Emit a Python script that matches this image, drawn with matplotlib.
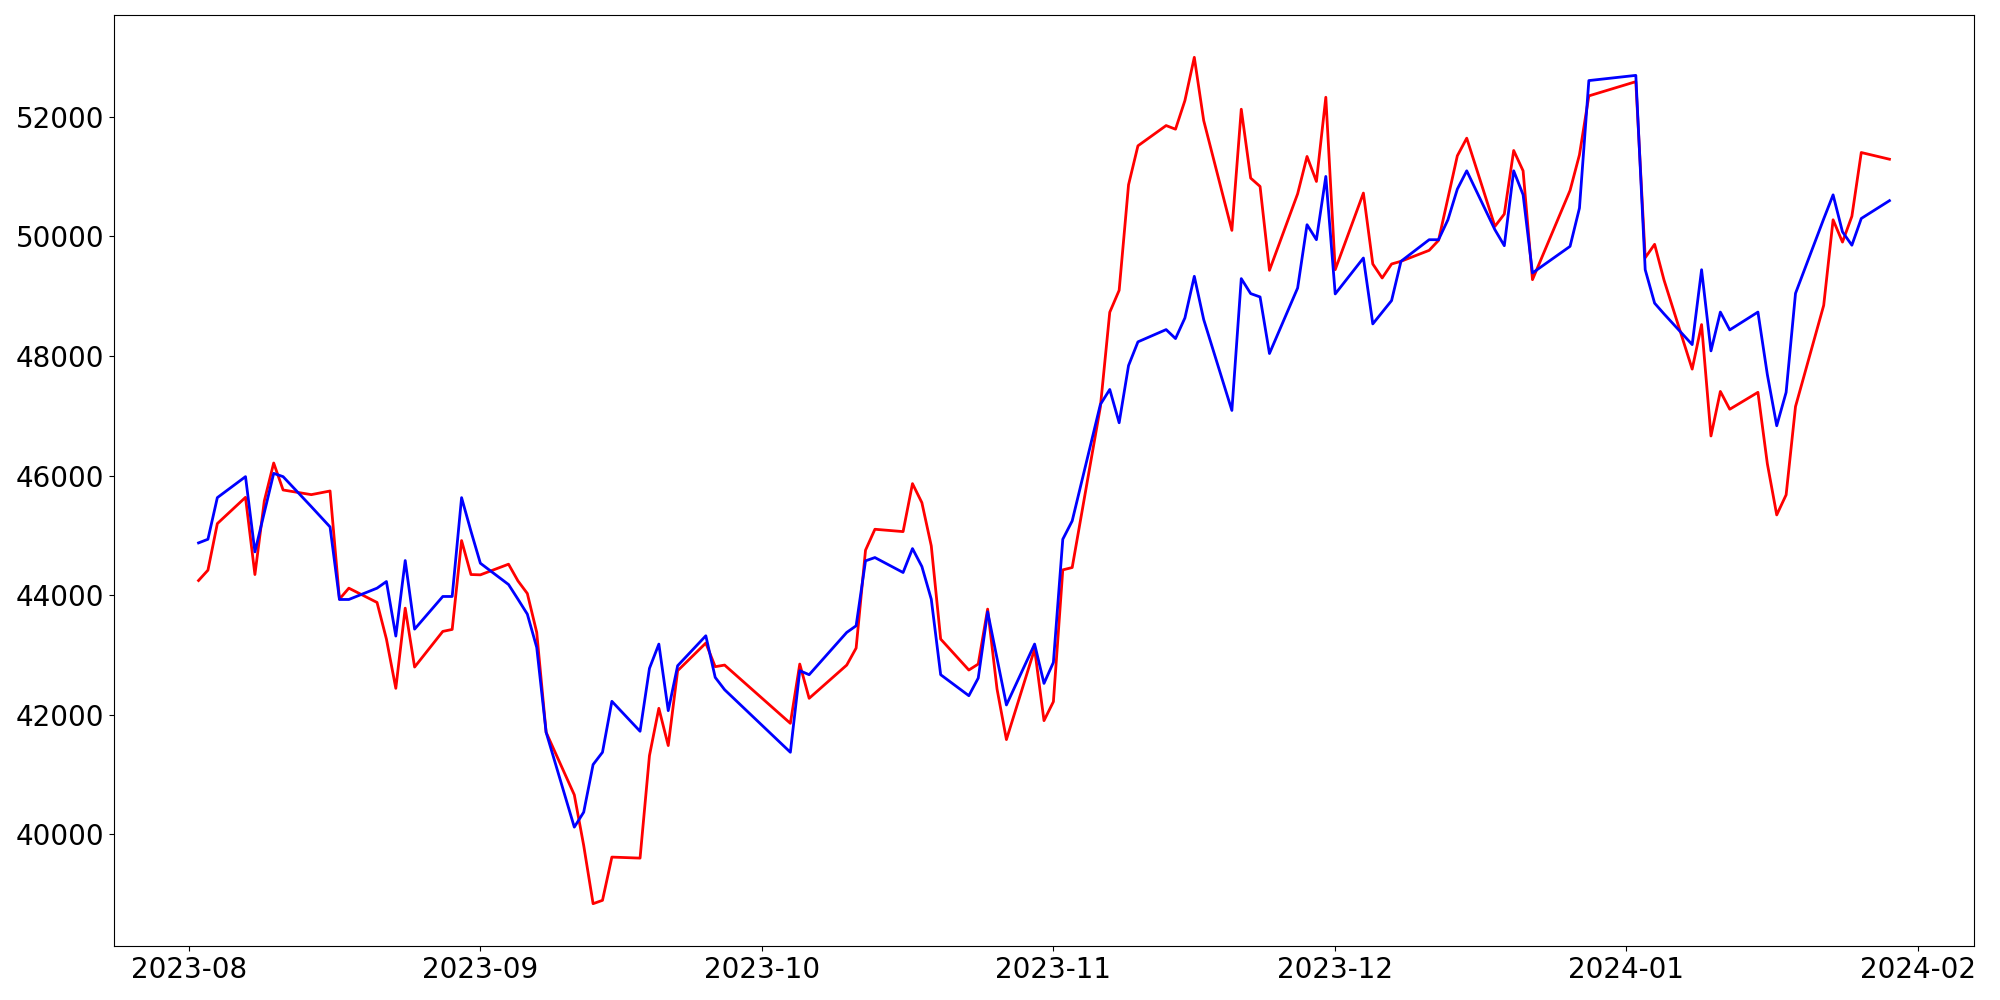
import matplotlib
matplotlib.use('agg')
import matplotlib.pyplot as plt
import pandas as pd

# trading days (KRX calendar, Aug 2023 - Jan 2024)
days_aug = ['2023-08-02', '2023-08-03', '2023-08-04', '2023-08-07', '2023-08-08', '2023-08-09',
            '2023-08-10', '2023-08-11', '2023-08-14', '2023-08-16', '2023-08-17', '2023-08-18',
            '2023-08-21', '2023-08-22', '2023-08-23', '2023-08-24', '2023-08-25', '2023-08-28',
            '2023-08-29', '2023-08-30', '2023-08-31']
days_sep = ['2023-09-01', '2023-09-04', '2023-09-05', '2023-09-06', '2023-09-07', '2023-09-08',
            '2023-09-11', '2023-09-12', '2023-09-13', '2023-09-14', '2023-09-15', '2023-09-18',
            '2023-09-19', '2023-09-20', '2023-09-21', '2023-09-22', '2023-09-25', '2023-09-26',
            '2023-09-27']
days_oct = ['2023-10-04', '2023-10-05', '2023-10-06', '2023-10-10', '2023-10-11', '2023-10-12',
            '2023-10-13', '2023-10-16', '2023-10-17', '2023-10-18', '2023-10-19', '2023-10-20',
            '2023-10-23', '2023-10-24', '2023-10-25', '2023-10-26', '2023-10-27', '2023-10-30',
            '2023-10-31']
days_nov = ['2023-11-01', '2023-11-02', '2023-11-03', '2023-11-06', '2023-11-07', '2023-11-08',
            '2023-11-09', '2023-11-10', '2023-11-13', '2023-11-14', '2023-11-15', '2023-11-16',
            '2023-11-17', '2023-11-20', '2023-11-21', '2023-11-22', '2023-11-23', '2023-11-24',
            '2023-11-27', '2023-11-28', '2023-11-29', '2023-11-30']
days_dec = ['2023-12-01', '2023-12-04', '2023-12-05', '2023-12-06', '2023-12-07', '2023-12-08',
            '2023-12-11', '2023-12-12', '2023-12-13', '2023-12-14', '2023-12-15', '2023-12-18',
            '2023-12-19', '2023-12-20', '2023-12-21', '2023-12-22', '2023-12-26', '2023-12-27',
            '2023-12-28']
days_jan = ['2024-01-02', '2024-01-03', '2024-01-04', '2024-01-05', '2024-01-08', '2024-01-09',
            '2024-01-10', '2024-01-11', '2024-01-12', '2024-01-15', '2024-01-16', '2024-01-17',
            '2024-01-18', '2024-01-19', '2024-01-22', '2024-01-23', '2024-01-24', '2024-01-25',
            '2024-01-26', '2024-01-29']

red_vals = [
    # aug
    44247, 44420, 45199, 45638, 44347, 45577, 46212, 45761, 45683, 45744, 43936,
    44119, 43880, 43268, 42444, 43785, 42800, 43396, 43429, 44915, 44347,
    # sep
    44342, 44520, 44241, 44030, 43379, 41709, 40663, 39817, 38843, 38899,
    39622, 39605, 41319, 42110, 41487, 42739, 43201, 42806, 42833,
    # oct
    41859, 42850, 42277, 42833, 43117, 44754, 45104, 45065, 45867, 45549,
    44826, 43268, 42750, 42850, 43769, 42433, 41587, 43101, 41904,
    # nov
    42221, 44425, 44464, 47150, 48733, 49100, 50865, 51516, 51855, 51794, 52273,
    52996, 51939, 50102, 52128, 50976, 50837, 49434, 50714, 51338, 50920, 52328,
    # dec
    49445, 50726, 49540, 49306, 49540, 49585, 49768, 49935, 50642, 51349,
    51644, 50169, 50375, 51438, 51098, 49278, 50770, 51366, 52351,
    # jan
    52589, 49645, 49869, 49272, 47782, 48527, 46664, 47409, 47111, 47394,
    46201, 45344, 45680, 47156, 48848, 50279, 49906, 50338, 51404, 51292,
]

blue_vals = [
    # aug
    44876, 44937, 45633, 45984, 44726, 45383, 46039, 45984, 45483, 45143, 43930,
    43930, 44119, 44230, 43318, 44581, 43434, 43980, 43980, 45633, 45071,
    # sep
    44536, 44180, 43935, 43685, 43128, 41709, 40123, 40373, 41169, 41375,
    42227, 41726, 42778, 43184, 42071, 42822, 43323, 42627, 42421,
    # oct
    41375, 42739, 42672, 43379, 43490, 44576, 44631, 44381, 44781, 44481,
    43935, 42672, 42321, 42616, 43724, 42945, 42166, 43184, 42527,
    # nov
    42878, 44937, 45243, 47191, 47442, 46885, 47842, 48238, 48443, 48293, 48638,
    49334, 48611, 47091, 49295, 49045, 48989, 48043, 49139, 50197, 49946, 51004,
    # dec
    49039, 49640, 48538, 48733, 48928, 49585, 49946, 49946, 50280, 50792,
    51098, 50113, 49846, 51098, 50698, 49390, 49835, 50475, 52607,
    # jan
    52694, 49444, 48885, 48706, 48192, 49444, 48087, 48736, 48438, 48736,
    47692, 46835, 47394, 49049, 50294, 50696, 50077, 49854, 50301, 50599,
]

dates = pd.to_datetime(days_aug + days_sep + days_oct + days_nov + days_dec + days_jan)

fig = plt.figure(figsize=(20, 10), dpi=100)
ax = fig.add_subplot(111)
fig.subplots_adjust(left=0.057, right=0.987, top=0.985, bottom=0.054)

ax.plot(dates, red_vals, color='red', linewidth=2)
ax.plot(dates, blue_vals, color='blue', linewidth=2)
ax.tick_params(labelsize=20)

fig.savefig('out.png', dpi=100)
